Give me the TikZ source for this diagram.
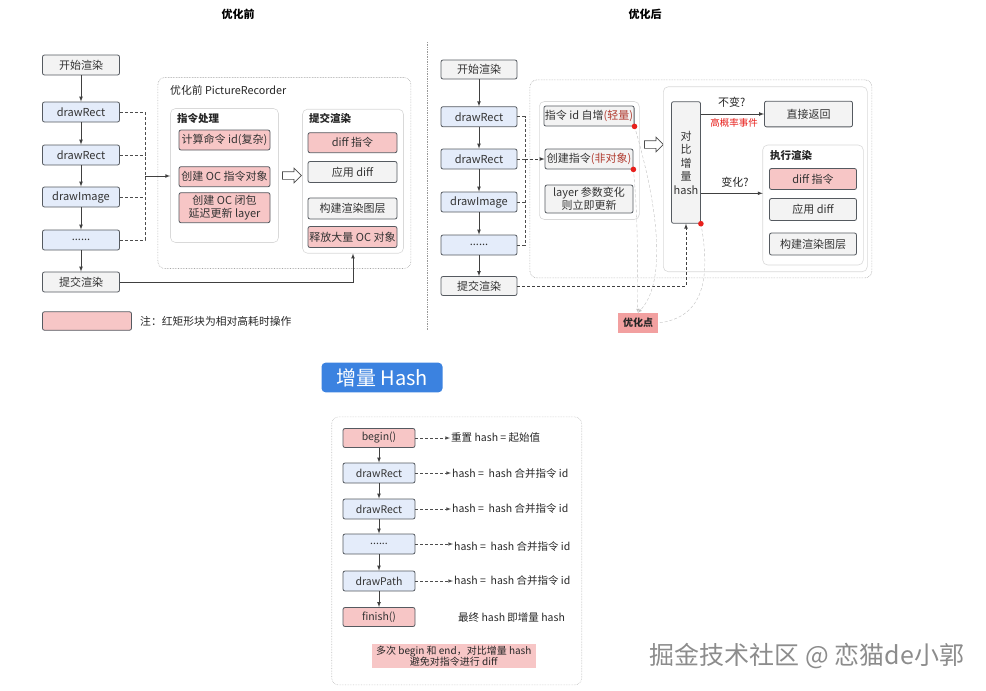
\documentclass[tikz,border=0pt]{standalone}
\usepackage{fontspec}
\setmainfont{Noto Sans CJK SC}
\usetikzlibrary{shapes}

\begin{document}
\begin{tikzpicture}[x=1pt,y=-1pt,
	box/.style={draw=boxline,rounded corners=2pt,minimum width=77pt,minimum height=20pt,inner sep=1pt,align=center,text=black!80,line width=0.8pt,font=\fontsize{11}{13}\selectfont},
	bluebox/.style={box,fill=boxblue},
	graybox/.style={box,fill=boxgray},
	redbox/.style={box,fill=boxred},
	panel/.style={draw=black!15,rounded corners=5pt,fill=white,line width=0.6pt},
	dotframe/.style={draw=black!35,densely dotted,rounded corners=7pt,line width=0.6pt},
	grouptitle/.style={anchor=west,inner sep=0pt,text=black!85,font=\bfseries\fontsize{10.5}{12}\selectfont},
	flow/.style={-latex,line width=0.7pt,black!75},
	link/.style={densely dashed,line width=0.6pt,black!70},
	hint/.style={anchor=west,inner sep=1pt,text=black!85,font=\fontsize{10.5}{12}\selectfont},
	openarrow/.style={single arrow,draw=black!70,fill=white,minimum height=19pt,single arrow head extend=3.5pt,inner sep=3.5pt,line width=0.7pt}]
			\definecolor{boxline}{HTML}{555A60}
			\definecolor{boxblue}{HTML}{E4ECFA}
			\definecolor{boxgray}{HTML}{F3F3F3}
			\definecolor{boxred}{HTML}{F7C6C6}
			\definecolor{optred}{HTML}{F2A0A0}
			\definecolor{hashblue}{HTML}{3B82E0}
			\definecolor{dotred}{HTML}{E8201C}
			\definecolor{darkred}{HTML}{B03A2E}
			\useasboundingbox (0,0) rectangle (986,691);
			
			% titles
			\node[font=\bfseries\fontsize{11}{12}\selectfont] (titleL) at (238,14) {优化前};
			\node[font=\bfseries\fontsize{11}{12}\selectfont] (titleR) at (645,14) {优化后};
			\draw[black!40,densely dotted,line width=0.7pt] (427,42) -- (427,330);
			
			% before: flow
			\node[graybox] (startL) at (81,65) {开始渲染};
			\node[bluebox] (rectLa) at (81,112) {drawRect};
			\node[bluebox] (rectLb) at (81,155) {drawRect};
			\node[bluebox] (imageL) at (81,197) {drawImage};
			\node[bluebox] (dotsL) at (81,240) {......};
			\node[graybox] (commitL) at (81,282) {提交渲染};
			\draw[flow] (startL) -- (rectLa);
			\draw[flow] (rectLa) -- (rectLb);
			\draw[flow] (rectLb) -- (imageL);
			\draw[flow] (imageL) -- (dotsL);
			\draw[flow] (dotsL) -- (commitL);
			
			% before: PictureRecorder
			\node[dotframe,minimum width=253pt,minimum height=191pt] (recL) at (284.4,173) {};
			\node[grouptitle,font=\fontsize{10.8}{12}\selectfont] (recLtitle) at (170,90) {优化前 PictureRecorder};
			\node[panel,minimum width=108pt,minimum height=134pt] (cmdL) at (224.5,175.5) {};
			\node[grouptitle] (cmdLtitle) at (177,118) {指令处理};
			\node[redbox,minimum width=91pt] (calcL) at (224.5,140) {计算命令 id(复杂)};
			\node[redbox,minimum width=91pt] (ocL) at (224.5,176.7) {创建 OC 指令对象};
			\node[redbox,minimum width=91pt,minimum height=30pt,font=\fontsize{11}{12.5}\selectfont] (closureL) at (224.5,207.7) {创建 OC 闭包\\延迟更新 layer};
			\node[openarrow] (passL) at (290,175.5) {};
			\node[panel,minimum width=101pt,minimum height=144pt] (submitL) at (353,181.2) {};
			\node[grouptitle] (submitLtitle) at (309,118) {提交渲染};
			\node[redbox,minimum width=89pt] (diffL) at (352.5,142.7) {diff 指令};
			\node[graybox,minimum width=89pt,minimum height=21pt] (applyL) at (352.5,172) {应用 diff};
			\node[graybox,minimum width=89pt,minimum height=21pt] (layerL) at (352.5,208.5) {构建渲染图层};
			\node[redbox,minimum width=89pt,minimum height=21pt] (freeL) at (352.5,237) {释放大量 OC 对象};
			
			% before: connectors
			\coordinate (jL) at (145,176);
			\draw[link] (rectLa.east) -| (jL);
			\draw[link] (rectLb.east) -- (rectLb.east -| jL);
			\draw[link] (imageL.east) -- (imageL.east -| jL);
			\draw[link] (dotsL.east) -| (jL);
			\draw[flow] (jL) -- (cmdL.west |- jL);
			\draw[flow] (commitL.east) -| (submitL.south);
			
			% legend
			\node[redbox,minimum width=89pt,minimum height=18.5pt] (legendBox) at (87,321) {};
			\node[hint,font=\fontsize{10.8}{12}\selectfont] (legendText) at (139,321) {注：红矩形块为相对高耗时操作};
			
			% after: flow
			\node[graybox,minimum width=76pt,minimum height=19pt] (startR) at (479,69.5) {开始渲染};
			\node[bluebox,minimum width=76pt] (rectRa) at (479,116.7) {drawRect};
			\node[bluebox,minimum width=76pt] (rectRb) at (479,159) {drawRect};
			\node[bluebox,minimum width=76pt] (imageR) at (479,202) {drawImage};
			\node[bluebox,minimum width=76pt] (dotsR) at (479,245) {......};
			\node[graybox,minimum width=76pt,minimum height=19pt] (commitR) at (479,286) {提交渲染};
			\draw[flow] (startR) -- (rectRa);
			\draw[flow] (rectRa) -- (rectRb);
			\draw[flow] (rectRb) -- (imageR);
			\draw[flow] (imageR) -- (dotsR);
			\draw[flow] (dotsR) -- (commitR);
			
			% after: recorder
			\node[dotframe,minimum width=342pt,minimum height=198pt] (recR) at (700.9,178.9) {};
			\node[panel,minimum width=100pt,minimum height=118pt] (cmdR) at (589.3,160.5) {};
			\node[graybox,minimum width=88pt] (idR) at (589,116) {指令 id 自增\textcolor{darkred}{(轻量)}};
			\node[graybox,minimum width=88pt] (newcmdR) at (589,159) {创建指令\textcolor{darkred}{(非对象)}};
			\node[graybox,minimum width=88pt,minimum height=28pt,font=\fontsize{11}{12.5}\selectfont] (layerR) at (589,199) {layer 参数变化\\则立即更新};
			\node[openarrow] (passR) at (652,144.5) {};
			\node[panel,minimum width=204pt,minimum height=185pt] (cmpR) at (765.3,179.2) {};
			\node[graybox,minimum width=29pt,minimum height=121.6pt,font=\fontsize{11}{13.5}\selectfont] (hashR) at (686,162.5) {对\\比\\增\\量\\hash};
			\node[graybox,minimum width=88pt,minimum height=25.7pt] (returnR) at (808.5,114) {直接返回};
			\node[panel,minimum width=100.6pt,minimum height=120pt] (execR) at (813,205) {};
			\node[grouptitle] (execRtitle) at (770,156) {执行渲染};
			\node[redbox,minimum width=87pt,minimum height=21pt] (diffR) at (813,179) {diff 指令};
			\node[graybox,minimum width=87pt,minimum height=22pt] (applyR) at (813,209.5) {应用 diff};
			\node[graybox,minimum width=87pt,minimum height=22pt] (layerR2) at (813,244) {构建渲染图层};
			
			% after: connectors
			\coordinate (jR) at (525,159);
			\coordinate (chgR) at (762.7,193.3);
			\draw[link] (rectRa.east) -| (jR);
			\draw[link] (imageR.east) -- (imageR.east -| jR);
			\draw[link] (dotsR.east) -| (jR);
			\draw[link] (rectRb.east) -- (jR);
			\draw[flow,densely dashed] (jR) -- (newcmdR.west);
			\draw[flow] (hashR.east |- returnR.west) -- (returnR.west);
			\draw[flow] (hashR.east |- chgR) -- (chgR);
			\draw[flow,densely dashed] (commitR.east) -| (hashR.south);
			\node[font=\fontsize{11}{12}\selectfont,text=black!85] (sameR) at (731.7,102.7) {不变?};
			\node[font=\fontsize{9.5}{10}\selectfont,text=dotred] (oftenR) at (734,122.7) {高概率事件};
			\node[font=\fontsize{11}{12}\selectfont,text=black!85] (changeR) at (735,182.3) {变化?};
			
			% optimisation points
			\node[fill=optred,minimum width=40pt,minimum height=20pt,inner sep=1pt,text=black!85,font=\bfseries\fontsize{10}{12}\selectfont] (optR) at (638,323) {优化点};
			\draw[black!25,densely dashed,-latex] (idR.south east) .. controls (662,220) and (664,285) .. (optR.north);
			\draw[black!25,densely dashed,-latex] (newcmdR.south east) .. controls (640,240) and (636,285) .. (optR.north);
			\draw[black!25,densely dashed] (hashR.south east) .. controls (712,285) and (700,318) .. (optR.east);
			\fill[dotred] (idR.south east) circle (2.8);
			\fill[dotred] (newcmdR.south east) circle (2.8);
			\fill[dotred] (hashR.south east) circle (2.8);
			
			% incremental hash
			\node[fill=hashblue,rounded corners=4pt,minimum width=121pt,minimum height=29.6pt,inner sep=0pt,text=white,font=\fontsize{20}{22}\selectfont] (hashTitle) at (382,377.5) {增量 Hash};
			\node[dotframe,minimum width=250pt,minimum height=268pt,draw=black!25] (hashBox) at (456.7,550.9) {};
			\node[redbox,minimum width=72pt,minimum height=19pt,font=\fontsize{10.5}{12}\selectfont] (beginB) at (379,438) {begin()};
			\node[bluebox,minimum width=72pt,font=\fontsize{10.5}{12}\selectfont] (rectBa) at (379,473) {drawRect};
			\node[bluebox,minimum width=72pt,font=\fontsize{10.5}{12}\selectfont] (rectBb) at (379,509) {drawRect};
			\node[bluebox,minimum width=72pt,font=\fontsize{10.5}{12}\selectfont] (dotsB) at (379,544) {......};
			\node[bluebox,minimum width=72pt,font=\fontsize{10.5}{12}\selectfont] (pathB) at (379,581) {drawPath};
			\node[redbox,minimum width=72pt,minimum height=19pt,font=\fontsize{10.5}{12}\selectfont] (finishB) at (379,617) {finish()};
			\draw[flow] (beginB) -- (rectBa);
			\draw[flow] (rectBa) -- (rectBb);
			\draw[flow] (rectBb) -- (dotsB);
			\draw[flow] (dotsB) -- (pathB);
			\draw[flow] (pathB) -- (finishB);
			\node[hint] (lblBegin) at (450,438) {重置 hash = 起始值};
			\node[hint] (lblRa) at (451,473.5) {hash =\ \ hash 合并指令 id};
			\node[hint] (lblRb) at (451,509) {hash =\ \ hash 合并指令 id};
			\node[hint] (lblDots) at (453,547) {hash =\ \ hash 合并指令 id};
			\node[hint] (lblPath) at (453,581) {hash =\ \ hash 合并指令 id};
			\node[hint] (lblFinish) at (457,617) {最终 hash 即增量 hash};
			\draw[link,-latex] (beginB.east) -- (lblBegin.west);
			\draw[link,-latex] (rectBa.east) -- (rectBa.east -| lblRa.west);
			\draw[link,-latex] (rectBb.east) -- (rectBb.east -| lblRb.west);
			\draw[link,-latex] (dotsB.east) -- (dotsB.east -| lblDots.west);
			\draw[link,-latex] (pathB.east) -- (lblPath.west);
			\node[fill=boxred,minimum width=164pt,minimum height=24.3pt,inner sep=1pt,align=center,text=black!85,font=\fontsize{10}{11.5}\selectfont] (noteB) at (453.8,656) {多次 begin 和 end，对比增量 hash\\避免对指令进行 diff};
			
			% watermark
			\node[text=black!45,font=\fontsize{25}{27}\selectfont] (mark) at (807,656) {掘金技术社区 @ 恋猫de小郭};
			
			\end{tikzpicture}
\end{document}
